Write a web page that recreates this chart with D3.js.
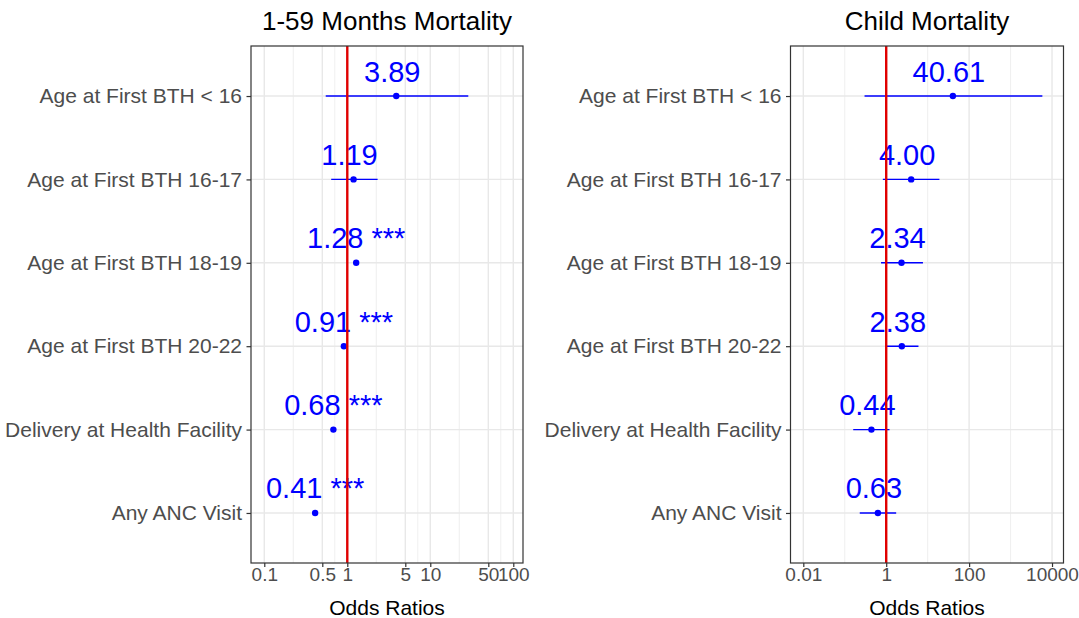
<!DOCTYPE html>
<html>
<head>
<meta charset="utf-8">
<script src="https://cdn.jsdelivr.net/npm/d3@7"></script>
<style>
body { margin: 0; background: #fff; }
text { font-family: "Liberation Sans", Arial, sans-serif; }
</style>
</head>
<body>
<script>
// rows, top to bottom
var categories = ["Age at First BTH < 16", "Age at First BTH 16-17", "Age at First BTH 18-19",
                  "Age at First BTH 20-22", "Delivery at Health Facility", "Any ANC Visit"];

// 1-59 months mortality
var monthsOR    = [3.89, 1.19, 1.28, 0.91, 0.68, 0.41];
var monthsLow   = [0.55, 0.64, 1.21, 0.87, 0.65, 0.39];
var monthsHigh  = [28.7, 2.32, 1.35, 0.95, 0.71, 0.43];
var monthsStars = ["", "", "***", "***", "***", "***"];
var monthsTicks = [0.1, 0.5, 1, 5, 10, 50, 100];
var monthsTickLabels = ["0.1", "0.5", "1", "5", "10", "50", "100"];

// child mortality
var childOR    = [40.61, 4.00, 2.34, 2.38, 0.44, 0.63];
var childLow   = [0.30, 0.83, 0.75, 1.00, 0.16, 0.23];
var childHigh  = [5850, 19.2, 7.7, 6.0, 1.2, 1.74];
var childStars = ["", "", "", "", "", ""];
var childTicks = [0.01, 1, 100, 10000];
var childTickLabels = ["0.01", "1", "100", "10000"];

var svg = d3.select("body").append("svg")
            .attr("width", 1079)
            .attr("height", 618);

var top_ = 46, bottom_ = 563;

function drawPanel(p) {
  var x = d3.scaleLog().domain(p.domain).range([p.x0, p.x1]);
  var y = d3.scalePoint().domain(categories).range([top_, bottom_]).padding(0.6);
  var g = svg.append("g");

  var rows = categories.map(function(c, i) {
    return {cat: c, or: p.or[i], lo: p.lo[i], hi: p.hi[i], star: p.stars[i]};
  });

  // grid
  var minor = d3.pairs(p.ticks).map(function(t) { return Math.sqrt(t[0] * t[1]); });
  g.selectAll(".minor").data(minor).enter().append("line")
    .attr("x1", function(d) { return x(d); }).attr("x2", function(d) { return x(d); })
    .attr("y1", top_).attr("y2", bottom_)
    .attr("stroke", "#ebebeb").attr("stroke-width", 0.8);
  g.selectAll(".majorx").data(p.ticks).enter().append("line")
    .attr("x1", function(d) { return x(d); }).attr("x2", function(d) { return x(d); })
    .attr("y1", top_).attr("y2", bottom_)
    .attr("stroke", "#e8e8e8").attr("stroke-width", 1.4);
  g.selectAll(".majory").data(categories).enter().append("line")
    .attr("x1", p.x0).attr("x2", p.x1)
    .attr("y1", function(d) { return y(d); }).attr("y2", function(d) { return y(d); })
    .attr("stroke", "#e8e8e8").attr("stroke-width", 1.4);

  // error bars + points
  g.selectAll(".ci").data(rows).enter().append("line")
    .attr("x1", function(d) { return x(d.lo); }).attr("x2", function(d) { return x(d.hi); })
    .attr("y1", function(d) { return y(d.cat); }).attr("y2", function(d) { return y(d.cat); })
    .attr("stroke", "#0000ff").attr("stroke-width", 1.4);
  g.selectAll(".pt").data(rows).enter().append("circle")
    .attr("cx", function(d) { return x(d.or); })
    .attr("cy", function(d) { return y(d.cat); })
    .attr("r", 3.2).attr("fill", "#0000ff");
  g.selectAll(".lab").data(rows).enter().append("text")
    .attr("x", function(d) { return x(d.or); })
    .attr("y", function(d) { return y(d.cat) - 14.5; })
    .attr("text-anchor", "middle")
    .style("white-space", "pre")
    .attr("font-size", 29).attr("fill", "#0000ff")
    .text(function(d) { return d.or.toFixed(2) + " " + d.star; });

  // reference line at OR = 1
  g.append("line")
    .attr("x1", x(1)).attr("x2", x(1)).attr("y1", top_).attr("y2", bottom_)
    .attr("stroke", "#e00000").attr("stroke-width", 2.4);

  g.append("rect")
    .attr("x", p.x0).attr("y", top_)
    .attr("width", p.x1 - p.x0).attr("height", bottom_ - top_)
    .attr("fill", "none").attr("stroke", "#333").attr("stroke-width", 1.2);

  // axes
  var xa = g.append("g").attr("transform", "translate(0," + bottom_ + ")")
    .call(d3.axisBottom(x).tickValues(p.ticks)
            .tickFormat(function(d, i) { return p.tickLabels[i]; })
            .tickSize(4).tickSizeOuter(0).tickPadding(1));
  var ya = g.append("g").attr("transform", "translate(" + p.x0 + ",0)")
    .call(d3.axisLeft(y).tickSize(4.5).tickSizeOuter(0).tickPadding(4.5));
  [xa, ya].forEach(function(a) {
    a.select(".domain").remove();
    a.selectAll(".tick line").attr("stroke", "#333").attr("stroke-width", 1.2);
    a.selectAll(".tick text").attr("fill", "#4d4d4d")
      .attr("font-family", "'Liberation Sans', Arial, sans-serif");
  });
  xa.selectAll(".tick text").attr("font-size", 19);
  ya.selectAll(".tick text").attr("font-size", 21);

  // titles
  var cx = (p.x0 + p.x1) / 2;
  g.append("text").attr("x", cx).attr("y", 29.5)
    .attr("text-anchor", "middle").attr("font-size", 26).attr("fill", "#000")
    .text(p.title);
  g.append("text").attr("x", cx).attr("y", 614.5)
    .attr("text-anchor", "middle").attr("font-size", 21).attr("fill", "#000")
    .text("Odds Ratios");
}

drawPanel({
  title: "1-59 Months Mortality",
  x0: 251, x1: 523,
  domain: [Math.pow(10, -1.16), Math.pow(10, 2.117)],
  or: monthsOR, lo: monthsLow, hi: monthsHigh, stars: monthsStars,
  ticks: monthsTicks, tickLabels: monthsTickLabels
});

drawPanel({
  title: "Child Mortality",
  x0: 790.5, x1: 1063.5,
  domain: [Math.pow(10, -2.309), Math.pow(10, 4.277)],
  or: childOR, lo: childLow, hi: childHigh, stars: childStars,
  ticks: childTicks, tickLabels: childTickLabels
});
</script>
</body>
</html>
